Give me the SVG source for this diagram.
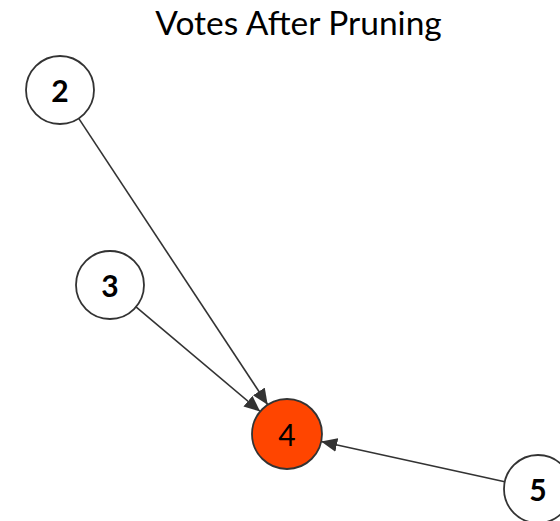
<svg xmlns="http://www.w3.org/2000/svg" width="560" height="521" viewBox="0 0 560 521">
<defs>
<style>
.node{fill:#fff;stroke:#333;stroke-width:1.8}
.hl{fill:#ff4500}
.lbl{font-family:Lato,"Liberation Sans",sans-serif;font-size:30px;font-weight:bold;fill:#000;text-anchor:middle;dominant-baseline:central}
.edge{stroke:#333;stroke-width:1.6;fill:none;marker-end:url(#arr)}
.title{font-family:Lato,"Liberation Sans",sans-serif;font-size:33.5px;fill:#000;text-anchor:middle}
</style>
<marker id="arr" viewBox="0 0 16 14" refX="16" refY="7" markerWidth="16" markerHeight="14" markerUnits="userSpaceOnUse" orient="auto">
<path d="M0,0 L16,7 L0,14 z" fill="#333"/>
</marker>
</defs>
<rect width="560" height="521" fill="#fff"/>
<text class="title" x="298.5" y="35">Votes After Pruning</text>
<g id="edges">
<line class="edge" x1="78.7" y1="118.4" x2="267.7" y2="404.8"/>
<line class="edge" x1="136" y1="306.9" x2="260.2" y2="411.5"/>
<line class="edge" x1="504.8" y1="481.7" x2="321.2" y2="441.5"/>
</g>
<g id="node2"><circle class="node" cx="60" cy="90" r="34"/><text class="lbl" x="60" y="90">2</text></g>
<g id="node3"><circle class="node" cx="110" cy="285" r="34"/><text class="lbl" x="110" y="285">3</text></g>
<g id="node4"><circle class="node hl" cx="287" cy="434" r="35"/><text class="lbl" x="287" y="434" style="font-weight:normal">4</text></g>
<g id="node5"><circle class="node" cx="538" cy="489" r="34"/><text class="lbl" x="538" y="489">5</text></g>
</svg>
